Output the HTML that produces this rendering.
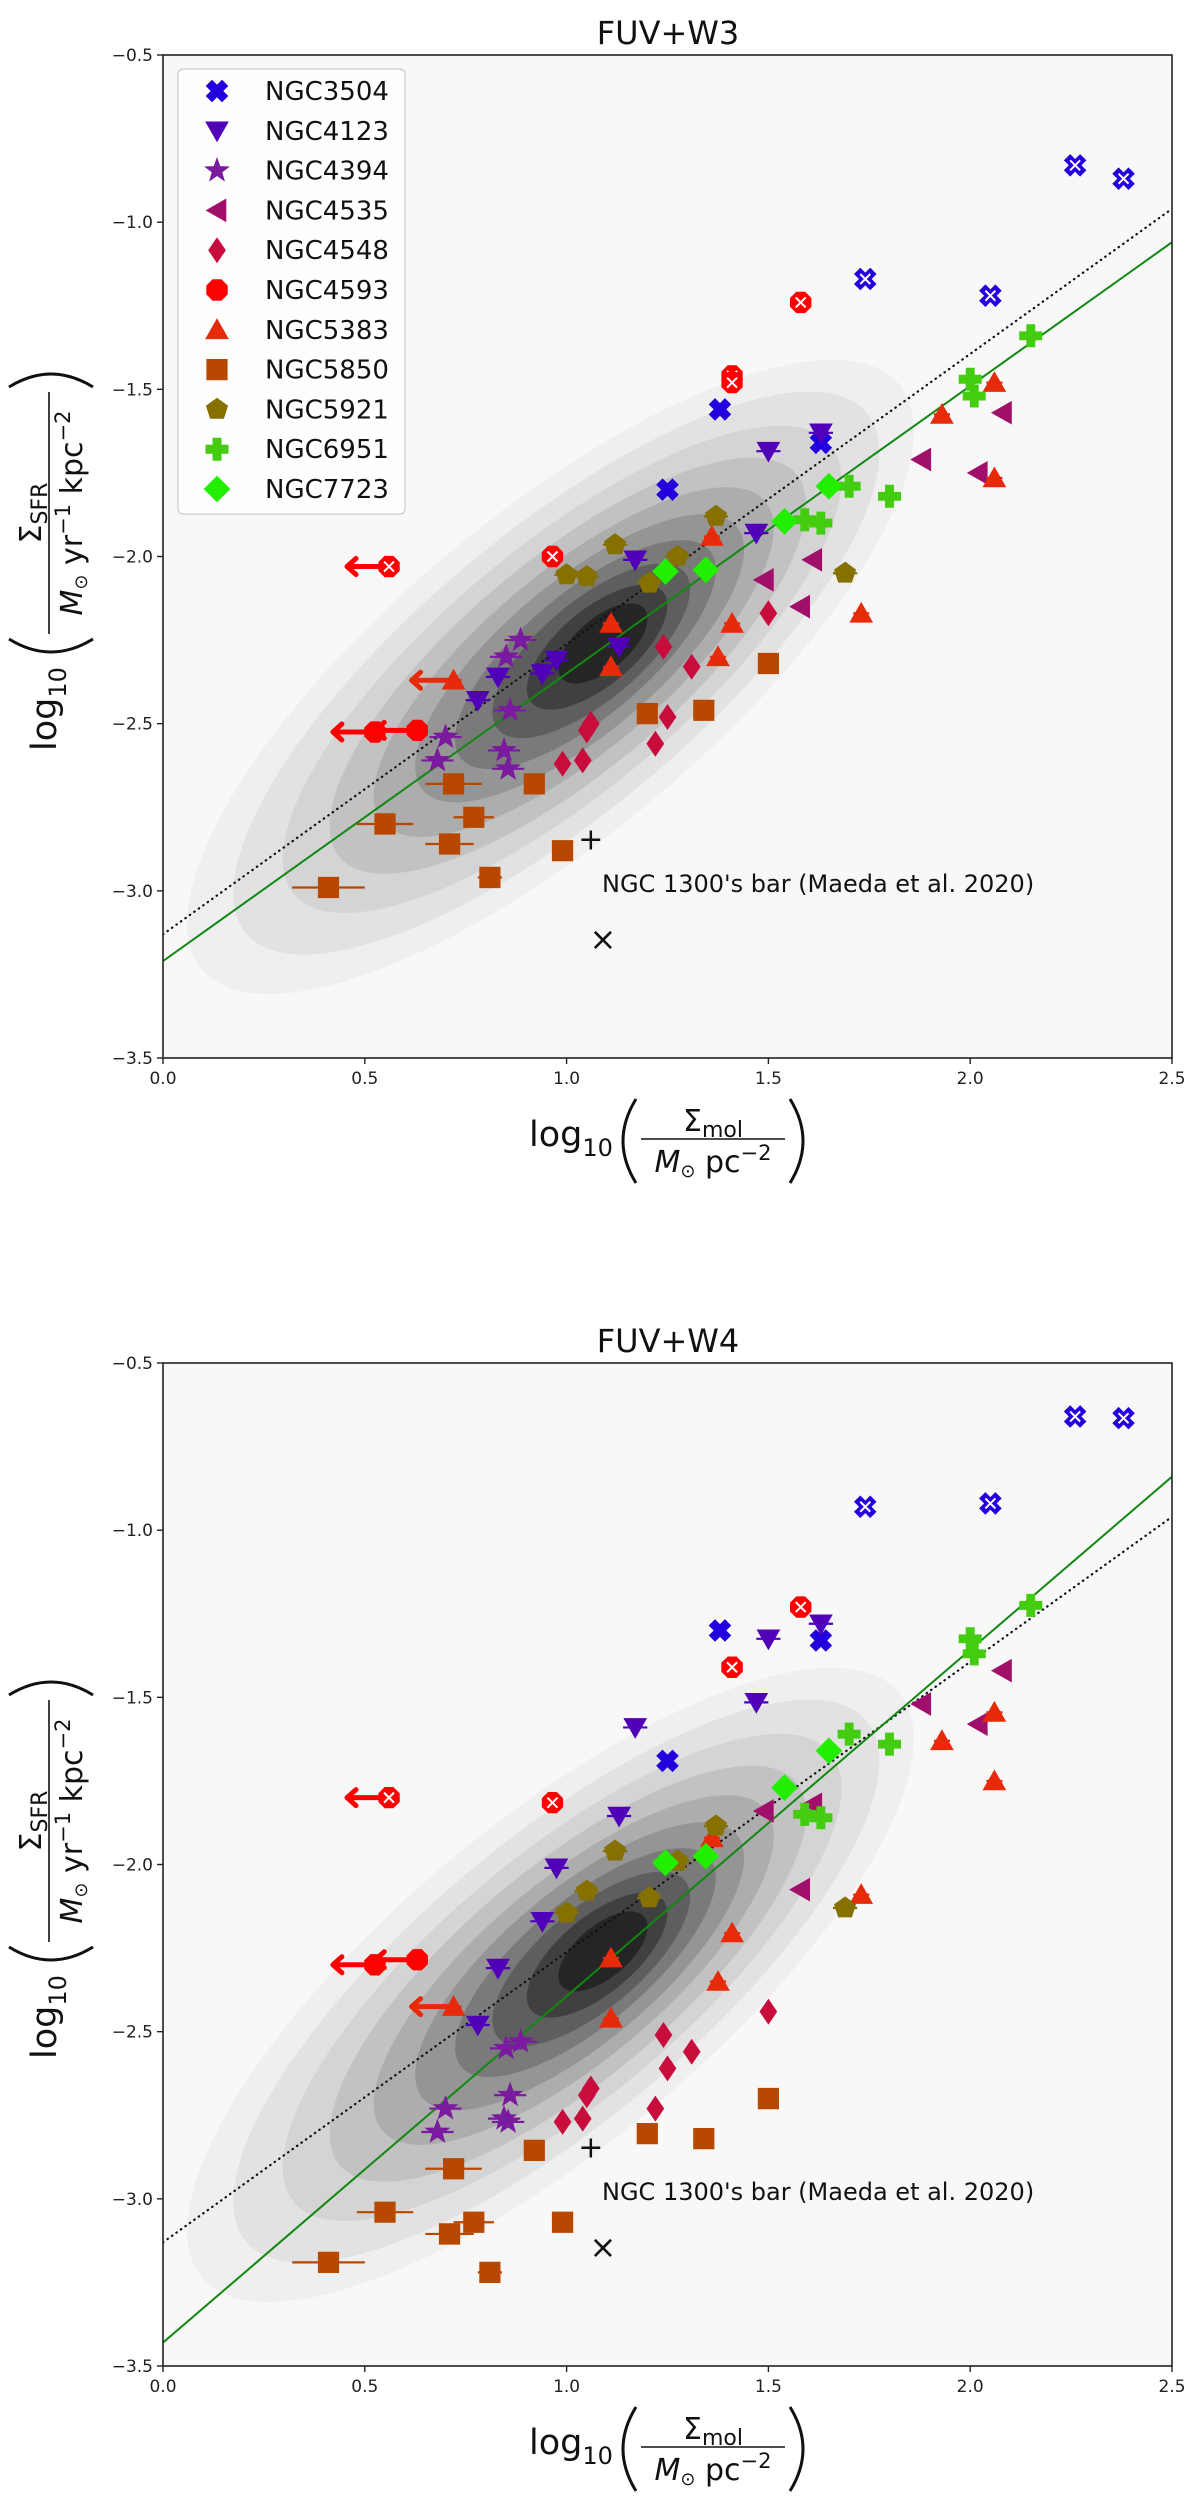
<!DOCTYPE html>
<html><head><meta charset="utf-8">
<style>
html,body{margin:0;padding:0;background:#fff;}
svg{display:block;font-family:"DejaVu Sans","Liberation Sans",sans-serif;}
</style></head>
<body>
<svg id="fig" width="1200" height="2508" viewBox="0 0 1200 2508" xmlns="http://www.w3.org/2000/svg">
  <g id="panel-top"></g>
  <g id="panel-bot" transform="translate(0,1308)"></g>
</svg>
<script>
// ---- data ----
const galaxies = ["NGC3504","NGC4123","NGC4394","NGC4535","NGC4548","NGC4593","NGC5383","NGC5850","NGC5921","NGC6951","NGC7723"];
const n3504_x  = [2.26,2.38,1.74,2.05,1.38,1.25,1.63];
const n3504_w3 = [-0.83,-0.87,-1.17,-1.22,-1.56,-1.80,-1.66];
const n3504_w4 = [-0.66,-0.665,-0.93,-0.92,-1.30,-1.69,-1.33];
const n4123_x  = [1.63,1.50,1.47,1.17,1.13,0.975,0.94,0.83,0.78];
const n4123_w3 = [-1.63,-1.685,-1.93,-2.01,-2.27,-2.31,-2.35,-2.36,-2.43];
const n4123_w4 = [-1.28,-1.325,-1.515,-1.59,-1.855,-2.01,-2.17,-2.31,-2.48];
const n4394_x  = [0.886,0.85,0.86,0.70,0.845,0.68,0.855];
const n4394_w3 = [-2.25,-2.30,-2.46,-2.54,-2.58,-2.61,-2.635];
const n4394_w4 = [-2.53,-2.55,-2.69,-2.73,-2.76,-2.80,-2.77];
const n4535_x  = [2.08,1.88,2.02,1.61,1.49,1.58];
const n4535_w3 = [-1.57,-1.71,-1.75,-2.01,-2.07,-2.15];
const n4535_w4 = [-1.42,-1.52,-1.58,-1.82,-1.84,-2.075];
const n4548_x  = [1.24,1.31,1.50,1.25,1.05,1.06,1.22,0.99,1.04];
const n4548_w3 = [-2.27,-2.33,-2.17,-2.48,-2.52,-2.50,-2.56,-2.62,-2.61];
const n4548_w4 = [-2.51,-2.56,-2.44,-2.61,-2.69,-2.67,-2.73,-2.77,-2.76];
const n4593_x  = [1.58,1.41,1.41,0.965,0.56,0.525,0.63];
const n4593_w3 = [-1.24,-1.46,-1.48,-2.00,-2.03,-2.525,-2.52];
const n4593_w4 = [-1.23,-1.41,-1.41,-1.815,-1.80,-2.30,-2.285];
const n4593_lim = [0,0,0,0,1,1,1];
const n5383_x  = [2.06,1.93,2.06,1.36,1.73,1.41,1.11,1.375,1.11,0.72];
const n5383_w3 = [-1.48,-1.575,-1.765,-1.94,-2.17,-2.20,-2.20,-2.30,-2.33,-2.37];
const n5383_w4 = [-1.545,-1.63,-1.75,-1.92,-2.09,-2.205,-2.28,-2.35,-2.46,-2.425];
const n5383_lim = [0,0,0,0,0,0,0,0,0,1];
const n5850_x  = [1.50,1.20,1.34,0.92,0.72,0.77,0.55,0.71,0.99,0.81,0.41];
const n5850_w3 = [-2.32,-2.47,-2.46,-2.68,-2.68,-2.78,-2.80,-2.86,-2.88,-2.96,-2.99];
const n5850_w4 = [-2.70,-2.805,-2.82,-2.855,-2.91,-3.07,-3.04,-3.105,-3.07,-3.22,-3.19];
const n5850_xerr = [0,0.02,0,0.02,0.07,0.05,0.07,0.06,0.02,0.03,0.09];
const n5921_x  = [1.37,1.12,1.275,1.00,1.05,1.205,1.69];
const n5921_w3 = [-1.88,-1.965,-2.00,-2.055,-2.06,-2.08,-2.05];
const n5921_w4 = [-1.885,-1.96,-1.99,-2.145,-2.08,-2.10,-2.13];
const n6951_x  = [2.15,2.00,2.01,1.70,1.80,1.59,1.63];
const n6951_w3 = [-1.34,-1.47,-1.52,-1.79,-1.82,-1.89,-1.90];
const n6951_w4 = [-1.225,-1.325,-1.37,-1.61,-1.64,-1.85,-1.86];
const n7723_x  = [1.65,1.54,1.245,1.345];
const n7723_w3 = [-1.79,-1.895,-2.045,-2.04];
const n7723_w4 = [-1.66,-1.77,-1.995,-1.975];
const fitW3 = [-3.21,-1.06];
const fitW4 = [-3.43,-0.84];
const refLine = [-3.13,-0.96];
const xTicks = [0.0,0.5,1.0,1.5,2.0,2.5];
const xTickLabels = ["0.0","0.5","1.0","1.5","2.0","2.5"];
const yTicks = [-0.5,-1.0,-1.5,-2.0,-2.5,-3.0,-3.5];
const yTickLabels = ["−0.5","−1.0","−1.5","−2.0","−2.5","−3.0","−3.5"];
const n1300_x = [1.06,1.09];
const n1300_y = [-2.85,-3.15];

const X0=163, X1=1172, Y0=55, Y1=1058;
const sx = v => X0 + (v-0)/(2.5-0)*(X1-X0);
const sy = v => Y0 + (-0.5-v)/(3.0)*(Y1-Y0);
const NS="http://www.w3.org/2000/svg";
function el(tag, attrs, parent){
  const e=document.createElementNS(NS,tag);
  for(const k in attrs) e.setAttribute(k,attrs[k]);
  if(parent) parent.appendChild(e);
  return e;
}
function poly(pts){return pts.map(p=>p[0].toFixed(1)+","+p[1].toFixed(1)).join(" ");}
function markerShape(g, type, cx, cy, color, r){
  r = r||11;
  let pts=[];
  if(type==="X"||type==="P"){
    const w=r*0.36, a=r;
    const base=[[-w,-a],[w,-a],[w,-w],[a,-w],[a,w],[w,w],[w,a],[-w,a],[-w,w],[-a,w],[-a,-w],[-w,-w]];
    const ang = type==="X"?Math.PI/4:0;
    pts=base.map(([x,y])=>[cx+x*Math.cos(ang)-y*Math.sin(ang), cy+x*Math.sin(ang)+y*Math.cos(ang)]);
  } else if(type==="v"){ pts=[[cx-r,cy-r*0.8],[cx+r,cy-r*0.8],[cx,cy+r*0.95]]; }
  else if(type==="^"){ pts=[[cx-r,cy+r*0.8],[cx+r,cy+r*0.8],[cx,cy-r*0.95]]; }
  else if(type==="<"){ pts=[[cx+r*0.8,cy-r],[cx+r*0.8,cy+r],[cx-r*0.95,cy]]; }
  else if(type==="d"){ pts=[[cx,cy-r*1.1],[cx+r*0.75,cy],[cx,cy+r*1.1],[cx-r*0.75,cy]]; }
  else if(type==="D"){ pts=[[cx,cy-r*1.15],[cx+r*1.15,cy],[cx,cy+r*1.15],[cx-r*1.15,cy]]; }
  else if(type==="s"){ const h=r*0.92; pts=[[cx-h,cy-h],[cx+h,cy-h],[cx+h,cy+h],[cx-h,cy+h]]; }
  else if(type==="8"){ for(let k=0;k<8;k++){const t=(22.5+45*k)*Math.PI/180; pts.push([cx+r*Math.cos(t),cy+r*Math.sin(t)]);} }
  else if(type==="p"){ for(let k=0;k<5;k++){const t=(-90+72*k)*Math.PI/180; pts.push([cx+r*Math.cos(t),cy+r*Math.sin(t)]);} }
  else if(type==="*"){ for(let k=0;k<10;k++){const t=(-90+36*k)*Math.PI/180; const rr=k%2?r*0.45:r*1.1; pts.push([cx+rr*Math.cos(t),cy+rr*Math.sin(t)]);} }
  return el("polygon",{points:poly(pts),fill:color,stroke:color,"stroke-width":1},g);
}
const series = [
  {name:"NGC3504", m:"X", c:"#2200dd", x:n3504_x, w3:n3504_w3, w4:n3504_w4, flag:[1,1,1,1,0,0,0], xerr:0},
  {name:"NGC4123", m:"v", c:"#5000b8", x:n4123_x, w3:n4123_w3, w4:n4123_w4, xerr:0.03},
  {name:"NGC4394", m:"*", c:"#7a1a9e", x:n4394_x, w3:n4394_w3, w4:n4394_w4, xerr:0.04},
  {name:"NGC4535", m:"<", c:"#a0106a", x:n4535_x, w3:n4535_w3, w4:n4535_w4, xerr:0.01},
  {name:"NGC4548", m:"d", c:"#c80c3c", x:n4548_x, w3:n4548_w3, w4:n4548_w4, xerr:0.01},
  {name:"NGC4593", m:"8", c:"#ff0000", x:n4593_x, w3:n4593_w3, w4:n4593_w4, flag:[1,1,1,1,1,0,0], lim:n4593_lim, xerr:0},
  {name:"NGC5383", m:"^", c:"#e62a0a", x:n5383_x, w3:n5383_w3, w4:n5383_w4, lim:n5383_lim, xerr:0.02},
  {name:"NGC5850", m:"s", c:"#b84800", x:n5850_x, w3:n5850_w3, w4:n5850_w4, xerrs:n5850_xerr},
  {name:"NGC5921", m:"p", c:"#857000", x:n5921_x, w3:n5921_w3, w4:n5921_w4, xerr:0.03},
  {name:"NGC6951", m:"P", c:"#44cc10", x:n6951_x, w3:n6951_w3, w4:n6951_w4, xerr:0},
  {name:"NGC7723", m:"D", c:"#22ee00", x:n7723_x, w3:n7723_w3, w4:n7723_w4, xerr:0}
];
const contourShade = ["#efefef","#e2e2e2","#d4d4d4","#c2c2c2","#adadad","#959595","#7a7a7a","#5e5e5e","#404040","#252525"];
const contourMajor = [455,405,350,298,250,205,162,122,86,54];
const contourMinor = [160,140,122,106,90,76,62,50,38,26];

function drawPanel(g, key, title, fit){
  el("rect",{x:X0,y:Y0,width:X1-X0,height:Y1-Y0,fill:"#f8f8f8"},g);
  const cp=el("clipPath",{id:"clip"+key},g);
  el("rect",{x:X0,y:Y0,width:X1-X0,height:Y1-Y0},cp);
  const cg=el("g",{"clip-path":"url(#clip"+key+")"},g);
  
  
  const n=contourShade.length;
  for(let i=0;i<n;i++){
    const t=i/(n-1);
    const cxv=0.96+0.13*t, cyv=-2.36+0.10*t;
    const e=el("ellipse",{cx:sx(cxv),cy:sy(cyv),rx:contourMajor[i],ry:contourMinor[i],fill:contourShade[i],
      transform:`rotate(-40 ${sx(cxv)} ${sy(cyv)})`},cg);
    
    
  }
  const l1=el("line",{x1:sx(0),y1:sy(refLine[0]),x2:sx(2.5),y2:sy(refLine[1]),stroke:"#111","stroke-width":2.2,"stroke-dasharray":"0.5 5","stroke-linecap":"round"},cg);
  
  
  const l2=el("line",{x1:sx(0),y1:sy(fit[0]),x2:sx(2.5),y2:sy(fit[1]),stroke:"#118811","stroke-width":2},cg);
  
  
  const pl=el("text",{x:sx(n1300_x[0]),y:sy(n1300_y[0])+9,"font-size":30,"text-anchor":"middle",fill:"#111"},g);
  pl.textContent="+";
  
  
  const cr=el("text",{x:sx(n1300_x[1]),y:sy(n1300_y[1])+9,"font-size":32,"text-anchor":"middle",fill:"#111"},g);
  cr.textContent="×";
  
  
  const an=el("text",{x:602,y:892,"font-size":24,fill:"#111"},g);
  an.textContent="NGC 1300's bar (Maeda et al. 2020)";
  
  
  series.forEach(s=>{
    const sg=el("g",{},g);
    
    
    const ys=s[key];
    s.x.forEach((xv,i)=>{
      const px=sx(xv), py=sy(ys[i]);
      const xe = s.xerrs? s.xerrs[i] : s.xerr;
      if(xe>0){
        const eb=el("line",{x1:sx(xv-xe),y1:py,x2:sx(xv+xe),y2:py,stroke:s.c,"stroke-width":2.2},sg);
        
        
      }
      if(s.lim && s.lim[i]){
        const ax=px-42;
        const ar=el("path",{d:`M${px} ${py} L${ax} ${py} M${ax+9} ${py-8} L${ax} ${py} L${ax+9} ${py+8}`,stroke:s.c,"stroke-width":5,fill:"none","stroke-linecap":"round","stroke-linejoin":"round"},sg);
        
        
      }
      const mk=markerShape(sg,s.m,px,py,s.c);
      
      
      if(s.flag && s.flag[i]){
        const fx=el("path",{d:`M${px-5} ${py-5} L${px+5} ${py+5} M${px+5} ${py-5} L${px-5} ${py+5}`,stroke:"#fff","stroke-width":2},sg);
        
        
      }
    });
  });
  const fr=el("rect",{x:X0,y:Y0,width:X1-X0,height:Y1-Y0,fill:"none",stroke:"#222","stroke-width":1.6},g);
  
  
  xTicks.forEach((v,i)=>{
    el("line",{x1:sx(v),y1:Y1,x2:sx(v),y2:Y1+6,stroke:"#222","stroke-width":1.4},g);
    const t=el("text",{x:sx(v),y:Y1+26,"font-size":17,"text-anchor":"middle",fill:"#222"},g);
    t.textContent=xTickLabels[i];
    
    
  });
  yTicks.forEach((v,i)=>{
    el("line",{x1:X0-6,y1:sy(v),x2:X0,y2:sy(v),stroke:"#222","stroke-width":1.4},g);
    const t=el("text",{x:X0-10,y:sy(v)+6,"font-size":17,"text-anchor":"end",fill:"#222"},g);
    t.textContent=yTickLabels[i];
    
    
  });
  const ti=el("text",{x:668,y:44,"font-size":32,"text-anchor":"middle",fill:"#111"},g);
  ti.textContent=title;
  
  
  const xl=el("g",{transform:"translate(713,1139)"},g);
  
  
  fracLabel(xl,72,-184,"mol",
    '<tspan font-style="italic">M</tspan><tspan font-size="18" baseline-shift="-5">⊙</tspan> pc<tspan font-size="21" baseline-shift="12">−2</tspan>');
  const yl=el("g",{transform:"translate(49,513) rotate(-90)"},g);
  
  
  fracLabel(yl,121,-238,"SFR",
    '<tspan font-style="italic">M</tspan><tspan font-size="18" baseline-shift="-5">⊙</tspan> yr<tspan font-size="21" baseline-shift="12">−1</tspan> kpc<tspan font-size="21" baseline-shift="12">−2</tspan>');
}
function fracLabel(g,half,logStart,numSub,denHtml){
  let t=el("text",{x:logStart,y:7,"font-size":35,fill:"#111"},g);
  t.innerHTML='log<tspan font-size="24" baseline-shift="-10">10</tspan>';
  const lp=half+5;
  el("path",{d:`M${-lp} -40 Q${-lp-26} 2 ${-lp} 44`,stroke:"#111","stroke-width":3,fill:"none"},g);
  el("path",{d:`M${lp} -40 Q${lp+26} 2 ${lp} 44`,stroke:"#111","stroke-width":3,fill:"none"},g);
  el("line",{x1:-half,y1:0,x2:half,y2:0,stroke:"#111","stroke-width":1.6},g);
  t=el("text",{x:0,y:-8,"font-size":30,"text-anchor":"middle",fill:"#111"},g);
  t.innerHTML='Σ<tspan font-size="22" baseline-shift="-6">'+numSub+'</tspan>';
  t=el("text",{x:0,y:33,"font-size":30,"text-anchor":"middle",fill:"#111"},g);
  t.innerHTML=denHtml;
}
drawPanel(document.getElementById("panel-top"),"w3","FUV+W3",fitW3);
drawPanel(document.getElementById("panel-bot"),"w4","FUV+W4",fitW4);
const lg=el("g",{},document.getElementById("panel-top"));


el("rect",{x:178,y:69,width:227,height:445,rx:5,fill:"#ffffff","fill-opacity":0.85,stroke:"#cccccc","stroke-width":1.2},lg);
series.forEach((s,i)=>{
  const y=91+39.8*i;
  const eg=el("g",{},lg);
  
  
  markerShape(eg,s.m,217,y,s.c);
  const t=el("text",{x:265,y:y+9,"font-size":26,fill:"#111"},eg);
  t.textContent=s.name;
});
</script>
</body></html>
